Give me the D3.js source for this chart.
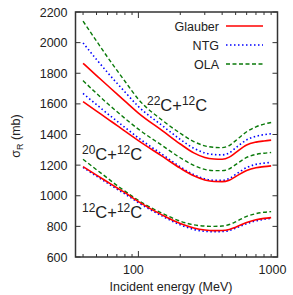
<!DOCTYPE html>
<html>
<head>
<meta charset="utf-8">
<script src="https://cdn.jsdelivr.net/npm/d3@7"></script>
<style>
  body { margin: 0; background: #fff; }
  text { font-family: "Liberation Sans", Arial, sans-serif; fill: #222; }
</style>
</head>
<body>
<script>
// energies (MeV) and cross sections (mb)
var energies = [40, 50, 60, 70, 80, 100, 150, 200, 250, 300, 350, 400, 450, 500, 600, 700, 800, 900];

var c22Glauber = [1865, 1785, 1720, 1665, 1618, 1540, 1422, 1338, 1280, 1250, 1240, 1238, 1252, 1282, 1332, 1350, 1358, 1363];
var c22NTG     = [1998, 1890, 1805, 1736, 1678, 1583, 1455, 1368, 1310, 1280, 1269, 1267, 1280, 1312, 1365, 1388, 1399, 1405];
var c22OLA     = [2140, 2010, 1905, 1820, 1748, 1630, 1490, 1408, 1354, 1326, 1316, 1314, 1328, 1360, 1418, 1450, 1468, 1478];

var c20Glauber = [1615, 1553, 1502, 1460, 1422, 1360, 1255, 1180, 1130, 1103, 1093, 1092, 1102, 1125, 1165, 1183, 1190, 1195];
var c20NTG     = [1668, 1595, 1536, 1488, 1446, 1378, 1267, 1189, 1138, 1111, 1101, 1101, 1113, 1139, 1184, 1205, 1213, 1218];
var c20OLA     = [1752, 1668, 1602, 1550, 1505, 1435, 1325, 1248, 1198, 1172, 1164, 1164, 1175, 1203, 1250, 1270, 1278, 1282];

var c12Glauber = [1190, 1135, 1090, 1052, 1020, 962, 872, 818, 789, 776, 772, 773, 780, 795, 825, 843, 852, 857];
var c12NTG     = [1185, 1128, 1082, 1044, 1012, 955, 865, 810, 780, 768, 765, 766, 773, 788, 818, 836, 846, 852];
var c12OLA     = [1238, 1170, 1115, 1068, 1030, 970, 883, 834, 810, 802, 800, 802, 812, 830, 865, 883, 892, 896];

var yTicks = [600, 800, 1000, 1200, 1400, 1600, 1800, 2000, 2200];
var xMajor = [100, 1000];
var xMinor = [40, 50, 60, 70, 80, 90, 200, 300, 400, 500, 600, 700, 800, 900];
var models = ["Glauber", "NTG", "OLA"];

var W = 293, H = 295;
var pLeft = 75.5, pRight = 277.5, pTop = 12, pBottom = 257;

var svg = d3.select("body").append("svg")
    .attr("width", W)
    .attr("height", H);

var x = d3.scaleLog().domain([35.3, 1000]).range([pLeft, pRight]);
var y = d3.scaleLinear().domain([600, 2200]).range([pBottom, pTop]);

var styles = {
    Glauber: {color: "#ff0000", dash: null, width: 1.6},
    NTG: {color: "#0000ff", dash: "1.5,2.5", width: 1.6},
    OLA: {color: "#0a7a0a", dash: "4,2.5", width: 1.4}
};

// axes, ticks pointing inward
var axisColor = "#333";
var gTicks = svg.append("g").attr("stroke", axisColor).attr("stroke-width", 1);

yTicks.forEach(function(v){
    gTicks.append("line").attr("x1", pLeft).attr("x2", pLeft + 5).attr("y1", y(v)).attr("y2", y(v));
    gTicks.append("line").attr("x1", pRight).attr("x2", pRight - 5).attr("y1", y(v)).attr("y2", y(v));
});
xMajor.forEach(function(v){
    gTicks.append("line").attr("x1", x(v)).attr("x2", x(v)).attr("y1", pBottom).attr("y2", pBottom - 6);
    gTicks.append("line").attr("x1", x(v)).attr("x2", x(v)).attr("y1", pTop).attr("y2", pTop + 6);
});
xMinor.forEach(function(v){
    gTicks.append("line").attr("x1", x(v)).attr("x2", x(v)).attr("y1", pBottom).attr("y2", pBottom - 3);
    gTicks.append("line").attr("x1", x(v)).attr("x2", x(v)).attr("y1", pTop).attr("y2", pTop + 3);
});

svg.append("rect")
    .attr("x", pLeft).attr("y", pTop)
    .attr("width", pRight - pLeft).attr("height", pBottom - pTop)
    .attr("fill", "none")
    .attr("stroke", axisColor)
    .attr("stroke-width", 1.5);

svg.selectAll(".ylab")
    .data(yTicks)
    .enter()
    .append("text")
    .attr("class", "ylab")
    .attr("x", pLeft - 8)
    .attr("y", function(d){ return y(d) + 4.5; })
    .attr("text-anchor", "end")
    .style("font-size", "12.5px")
    .text(function(d){ return d; });

svg.selectAll(".xlab")
    .data(xMajor)
    .enter()
    .append("text")
    .attr("class", "xlab")
    .attr("x", function(d){ return x(d) - 5; })
    .attr("y", pBottom + 17)
    .attr("text-anchor", "middle")
    .style("font-size", "12.5px")
    .text(function(d){ return d; });

svg.append("text")
    .attr("x", 171)
    .attr("y", 291)
    .attr("text-anchor", "middle")
    .style("font-size", "12.5px")
    .text("Incident energy (MeV)");

var ylabel = svg.append("text")
    .attr("transform", "translate(20,136) rotate(-90)")
    .attr("text-anchor", "middle")
    .style("font-size", "12.5px");
ylabel.append("tspan").text("\u03c3");
ylabel.append("tspan").attr("dy", 3).style("font-size", "9px").text("R");
ylabel.append("tspan").attr("dy", -3).text(" (mb)");

// curves
var line = d3.line()
    .x(function(d){ return x(d[0]); })
    .y(function(d){ return y(d[1]); })
    .curve(d3.curveMonotoneX);

var series = [
    {model: "OLA", values: c22OLA}, {model: "NTG", values: c22NTG}, {model: "Glauber", values: c22Glauber},
    {model: "OLA", values: c20OLA}, {model: "NTG", values: c20NTG}, {model: "Glauber", values: c20Glauber},
    {model: "OLA", values: c12OLA}, {model: "NTG", values: c12NTG}, {model: "Glauber", values: c12Glauber}
];

svg.selectAll(".curve")
    .data(series)
    .enter()
    .append("path")
    .attr("class", "curve")
    .attr("d", function(d){ return line(d3.zip(energies, d.values)); })
    .attr("fill", "none")
    .attr("stroke", function(d){ return styles[d.model].color; })
    .attr("stroke-width", function(d){ return styles[d.model].width; })
    .attr("stroke-dasharray", function(d){ return styles[d.model].dash; });

// legend
var legend = svg.selectAll(".legend")
    .data(models)
    .enter()
    .append("g")
    .attr("class", "legend")
    .attr("transform", function(d, i){ return "translate(0," + (26 + i * 19) + ")"; });

legend.append("text")
    .attr("x", 219)
    .attr("y", 4.5)
    .attr("text-anchor", "end")
    .style("font-size", "12.5px")
    .text(function(d){ return d; });

legend.append("line")
    .attr("x1", 226).attr("x2", 263)
    .attr("y1", 0).attr("y2", 0)
    .attr("stroke", function(d){ return styles[d].color; })
    .attr("stroke-width", function(d){ return styles[d].width; })
    .attr("stroke-dasharray", function(d){ return styles[d].dash; });

// reaction labels
function reaction(px, py, a, b){
    var t = svg.append("text").attr("x", px).attr("y", py).style("font-size", "16.5px");
    t.append("tspan").attr("dy", -6.5).style("font-size", "12px").text(a);
    t.append("tspan").attr("dy", 6.5).text("C+");
    t.append("tspan").attr("dy", -6.5).style("font-size", "12px").text(b);
    t.append("tspan").attr("dy", 6.5).text("C");
}
reaction(147, 111, "22", "12");
reaction(82, 160, "20", "12");
reaction(82, 218, "12", "12");
</script>
</body>
</html>
